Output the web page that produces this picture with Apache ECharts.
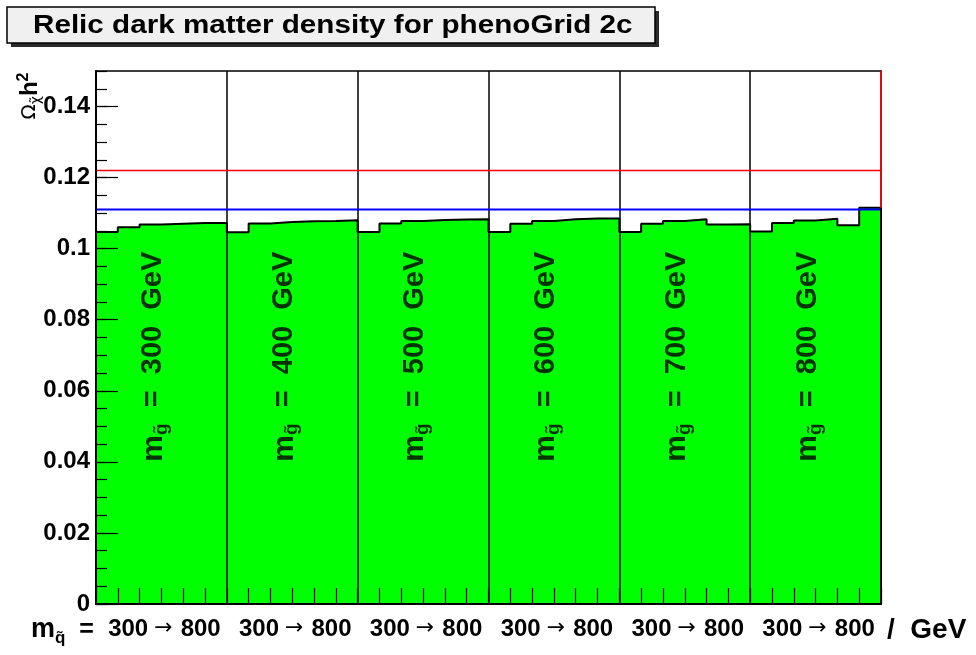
<!DOCTYPE html>
<html>
<head>
<meta charset="utf-8">
<script src="https://cdn.jsdelivr.net/npm/echarts@6/dist/echarts.min.js"></script>
<style>
  html, body { margin: 0; padding: 0; background: #ffffff; }
  #chart { width: 976px; height: 655px; }
</style>
</head>
<body>
<div id="chart"></div>
<script>
// Relic density scan: six gluino masses, each with six squark-mass bins
const gluinoMasses = [300, 400, 500, 600, 700, 800];
const squarkRange = [300, 800];
const omegaMg300 = [0.1047, 0.1060, 0.1068, 0.1070, 0.1072, 0.1072];
const omegaMg400 = [0.1046, 0.1071, 0.1075, 0.1077, 0.1078, 0.1080];
const omegaMg500 = [0.1047, 0.1071, 0.1078, 0.1081, 0.1082, 0.1083];
const omegaMg600 = [0.1047, 0.1070, 0.1078, 0.1083, 0.1085, 0.1085];
const omegaMg700 = [0.1047, 0.1070, 0.1078, 0.1083, 0.1068, 0.1069];
const omegaMg800 = [0.1048, 0.1072, 0.1079, 0.1084, 0.1066, 0.1115];
const wmapUpper = 0.122;   // red band edge
const wmapLower = 0.111;   // blue band edge
const yTicks = { min: 0, max: 0.15, major: 0.02, minor: 0.005 };

const FONT = "'Liberation Sans', Arial, Helvetica, sans-serif";
const groups = [omegaMg300, omegaMg400, omegaMg500, omegaMg600, omegaMg700, omegaMg800];
const binsPerGroup = omegaMg300.length;
const values = groups.flat();
const nBins = values.length;

// stepped outline: one point per bin edge, closed down to zero at the right edge
const histPoints = values.map((v, i) => [i, v]);
histPoints.push([nBins, values[nBins - 1]]);
histPoints.push([nBins, 0]);

const groupEdges = [];
for (let g = 1; g < groups.length; g++) groupEdges.push(g * binsPerGroup);
const groupCenters = groups.map((_, g) => g * binsPerGroup + binsPerGroup / 2);

const chart = echarts.init(document.getElementById('chart'), null, { renderer: 'canvas' });

const option = {
  animation: false,
  backgroundColor: '#ffffff',
  grid: { left: 96, right: 95, top: 71, bottom: 51, containLabel: false },
  xAxis: [
    {
      type: 'value', min: 0, max: nBins, interval: 1, z: 10,
      axisLine: { show: true, onZero: false, lineStyle: { color: '#000', width: 2 } },
      axisTick: { show: true, inside: true, length: 16, lineStyle: { color: '#000', width: 1.2 } },
      splitLine: { show: false },
      axisLabel: {
        show: true, margin: 13,
        customValues: groupCenters,
        formatter: () => `{f|${squarkRange[0]}}{a|→}{n|${squarkRange[1]}}`,
        rich: {
          f: { fontFamily: FONT, fontWeight: 'bold', fontSize: 24, color: '#000', padding: [0, 0, 0, 6] },
          n: { fontFamily: FONT, fontWeight: 'bold', fontSize: 24, color: '#000' },
          a: { fontFamily: "'DejaVu Sans', sans-serif", fontWeight: 'normal', fontSize: 22, color: '#000', padding: [0, 8, 2, 6] }
        }
      }
    },
    {
      type: 'value', position: 'top', min: 0, max: nBins, z: 10,
      axisLine: { show: true, onZero: false, lineStyle: { color: '#000', width: 1.5 } },
      axisTick: { show: false }, axisLabel: { show: false }, splitLine: { show: false }
    }
  ],
  yAxis: [
    {
      type: 'value', min: yTicks.min, max: yTicks.max, interval: yTicks.major, z: 10,
      axisLine: { show: true, onZero: false, lineStyle: { color: '#000', width: 2 } },
      axisTick: { show: true, inside: true, length: 22, lineStyle: { color: '#000', width: 1.2 } },
      splitLine: { show: false },
      axisLabel: {
        show: true, margin: 6, showMaxLabel: false,
        fontFamily: FONT, fontWeight: 'bold', fontSize: 24, color: '#000',
        formatter: v => String(+v.toFixed(3))
      }
    },
    {
      type: 'value', position: 'left', min: yTicks.min, max: yTicks.max, interval: yTicks.minor, z: 10,
      axisLine: { show: false },
      axisTick: { show: true, inside: true, length: 11, lineStyle: { color: '#000', width: 1.2 } },
      axisLabel: { show: false }, splitLine: { show: false }
    },
    {
      type: 'value', position: 'right', min: yTicks.min, max: yTicks.max, z: 10,
      axisLine: { show: true, onZero: false, lineStyle: { color: '#000', width: 1.5 } },
      axisTick: { show: false }, axisLabel: { show: false }, splitLine: { show: false }
    }
  ],
  series: [
    {
      name: 'relic density', type: 'line', step: 'end', data: histPoints,
      xAxisIndex: 0, yAxisIndex: 0, z: 2,
      symbol: 'none', silent: true,
      lineStyle: { color: '#000', width: 2 },
      areaStyle: { color: '#00ff00', opacity: 1 }
    },
    {
      name: 'group edges', type: 'line', data: [], xAxisIndex: 0, yAxisIndex: 0, z: 3,
      markLine: {
        silent: true, symbol: 'none', animation: false,
        label: { show: false },
        lineStyle: { color: '#000', width: 1.5, type: 'solid' },
        data: groupEdges.map(x => ({ xAxis: x }))
      }
    },
    {
      name: 'upper', type: 'line', data: [[0, wmapUpper], [nBins, wmapUpper]],
      xAxisIndex: 0, yAxisIndex: 0, z: 5, symbol: 'none', silent: true,
      lineStyle: { color: '#ff0000', width: 1.6 }
    },
    {
      name: 'upper edge', type: 'line', data: [[nBins, yTicks.max], [nBins, values[nBins - 1]]],
      xAxisIndex: 0, yAxisIndex: 0, z: 12, symbol: 'none', silent: true,
      lineStyle: { color: '#ff0000', width: 1.6 }
    },
    {
      name: 'lower', type: 'line', data: [[0, wmapLower], [nBins, wmapLower]],
      xAxisIndex: 0, yAxisIndex: 0, z: 5, symbol: 'none', silent: true,
      lineStyle: { color: '#0000ff', width: 2 }
    },
    {
      name: 'gluino labels', type: 'scatter', xAxisIndex: 0, yAxisIndex: 0, z: 6,
      symbolSize: 0, silent: true,
      data: gluinoMasses.map((m, g) => ({ value: [groupCenters[g], 0.0696], mass: m })),
      label: {
        show: true, position: 'inside', rotate: 90, offset: [0, -8],
        formatter: p => `{m|m}{s|g̃}{t|  =  ${p.data.mass}  GeV}`,
        rich: {
          m: { fontFamily: FONT, fontWeight: 'bold', fontSize: 30, color: '#000' },
          s: { fontFamily: FONT, fontWeight: 'bold', fontSize: 19, color: '#000', padding: [16, 0, 0, 0] },
          t: { fontFamily: FONT, fontWeight: 'bold', fontSize: 29, color: '#000' }
        }
      }
    }
  ],
  graphic: [
    // title box with drop shadow
    { type: 'rect', shape: { x: 11, y: 11, width: 648, height: 36 }, style: { fill: '#2b2b2b' }, z: 100 },
    { type: 'rect', shape: { x: 7, y: 7, width: 648, height: 36 }, style: { fill: '#f0f0f0', stroke: '#000', lineWidth: 1.5 }, z: 101 },
    {
      type: 'text', x: 33, y: 26, z: 102, scaleX: 1.14,
      style: {
        text: 'Relic dark matter density for phenoGrid 2c',
        fontFamily: FONT, fontWeight: 'bold', fontSize: 26, fill: '#000',
        verticalAlign: 'middle', textAlign: 'left'
      }
    },
    // y axis title
    {
      type: 'text', x: 30, y: 96, rotation: Math.PI / 2, z: 102,
      style: {
        text: '{o|Ω}{c|χ̃}{h|h}{p|2}',
        textAlign: 'center', verticalAlign: 'middle',
        rich: {
          o: { fontFamily: "'DejaVu Sans', sans-serif", fontSize: 20, fill: '#000' },
          c: { fontFamily: "'DejaVu Sans', sans-serif", fontSize: 14, fill: '#000', padding: [12, 0, 0, 0] },
          h: { fontFamily: FONT, fontWeight: 'bold', fontSize: 24, fill: '#000' },
          p: { fontFamily: FONT, fontWeight: 'bold', fontSize: 16, fill: '#000', padding: [0, 0, 12, 0] }
        }
      }
    },
    // x axis title parts
    {
      type: 'text', x: 31, y: 630, z: 102,
      style: {
        text: '{m|m}{s|q̃}{e|  =}',
        textAlign: 'left', verticalAlign: 'middle',
        rich: {
          m: { fontFamily: FONT, fontWeight: 'bold', fontSize: 27, fill: '#000' },
          s: { fontFamily: FONT, fontWeight: 'bold', fontSize: 17, fill: '#000', padding: [16, 0, 0, 0] },
          e: { fontFamily: FONT, fontWeight: 'bold', fontSize: 25, fill: '#000' }
        }
      }
    },
    {
      type: 'text', x: 887, y: 630, z: 102,
      style: {
        text: '/  GeV', textAlign: 'left', verticalAlign: 'middle',
        fontFamily: FONT, fontWeight: 'bold', fontSize: 28, fill: '#000'
      }
    }
  ]
};

chart.setOption(option);
</script>
</body>
</html>
